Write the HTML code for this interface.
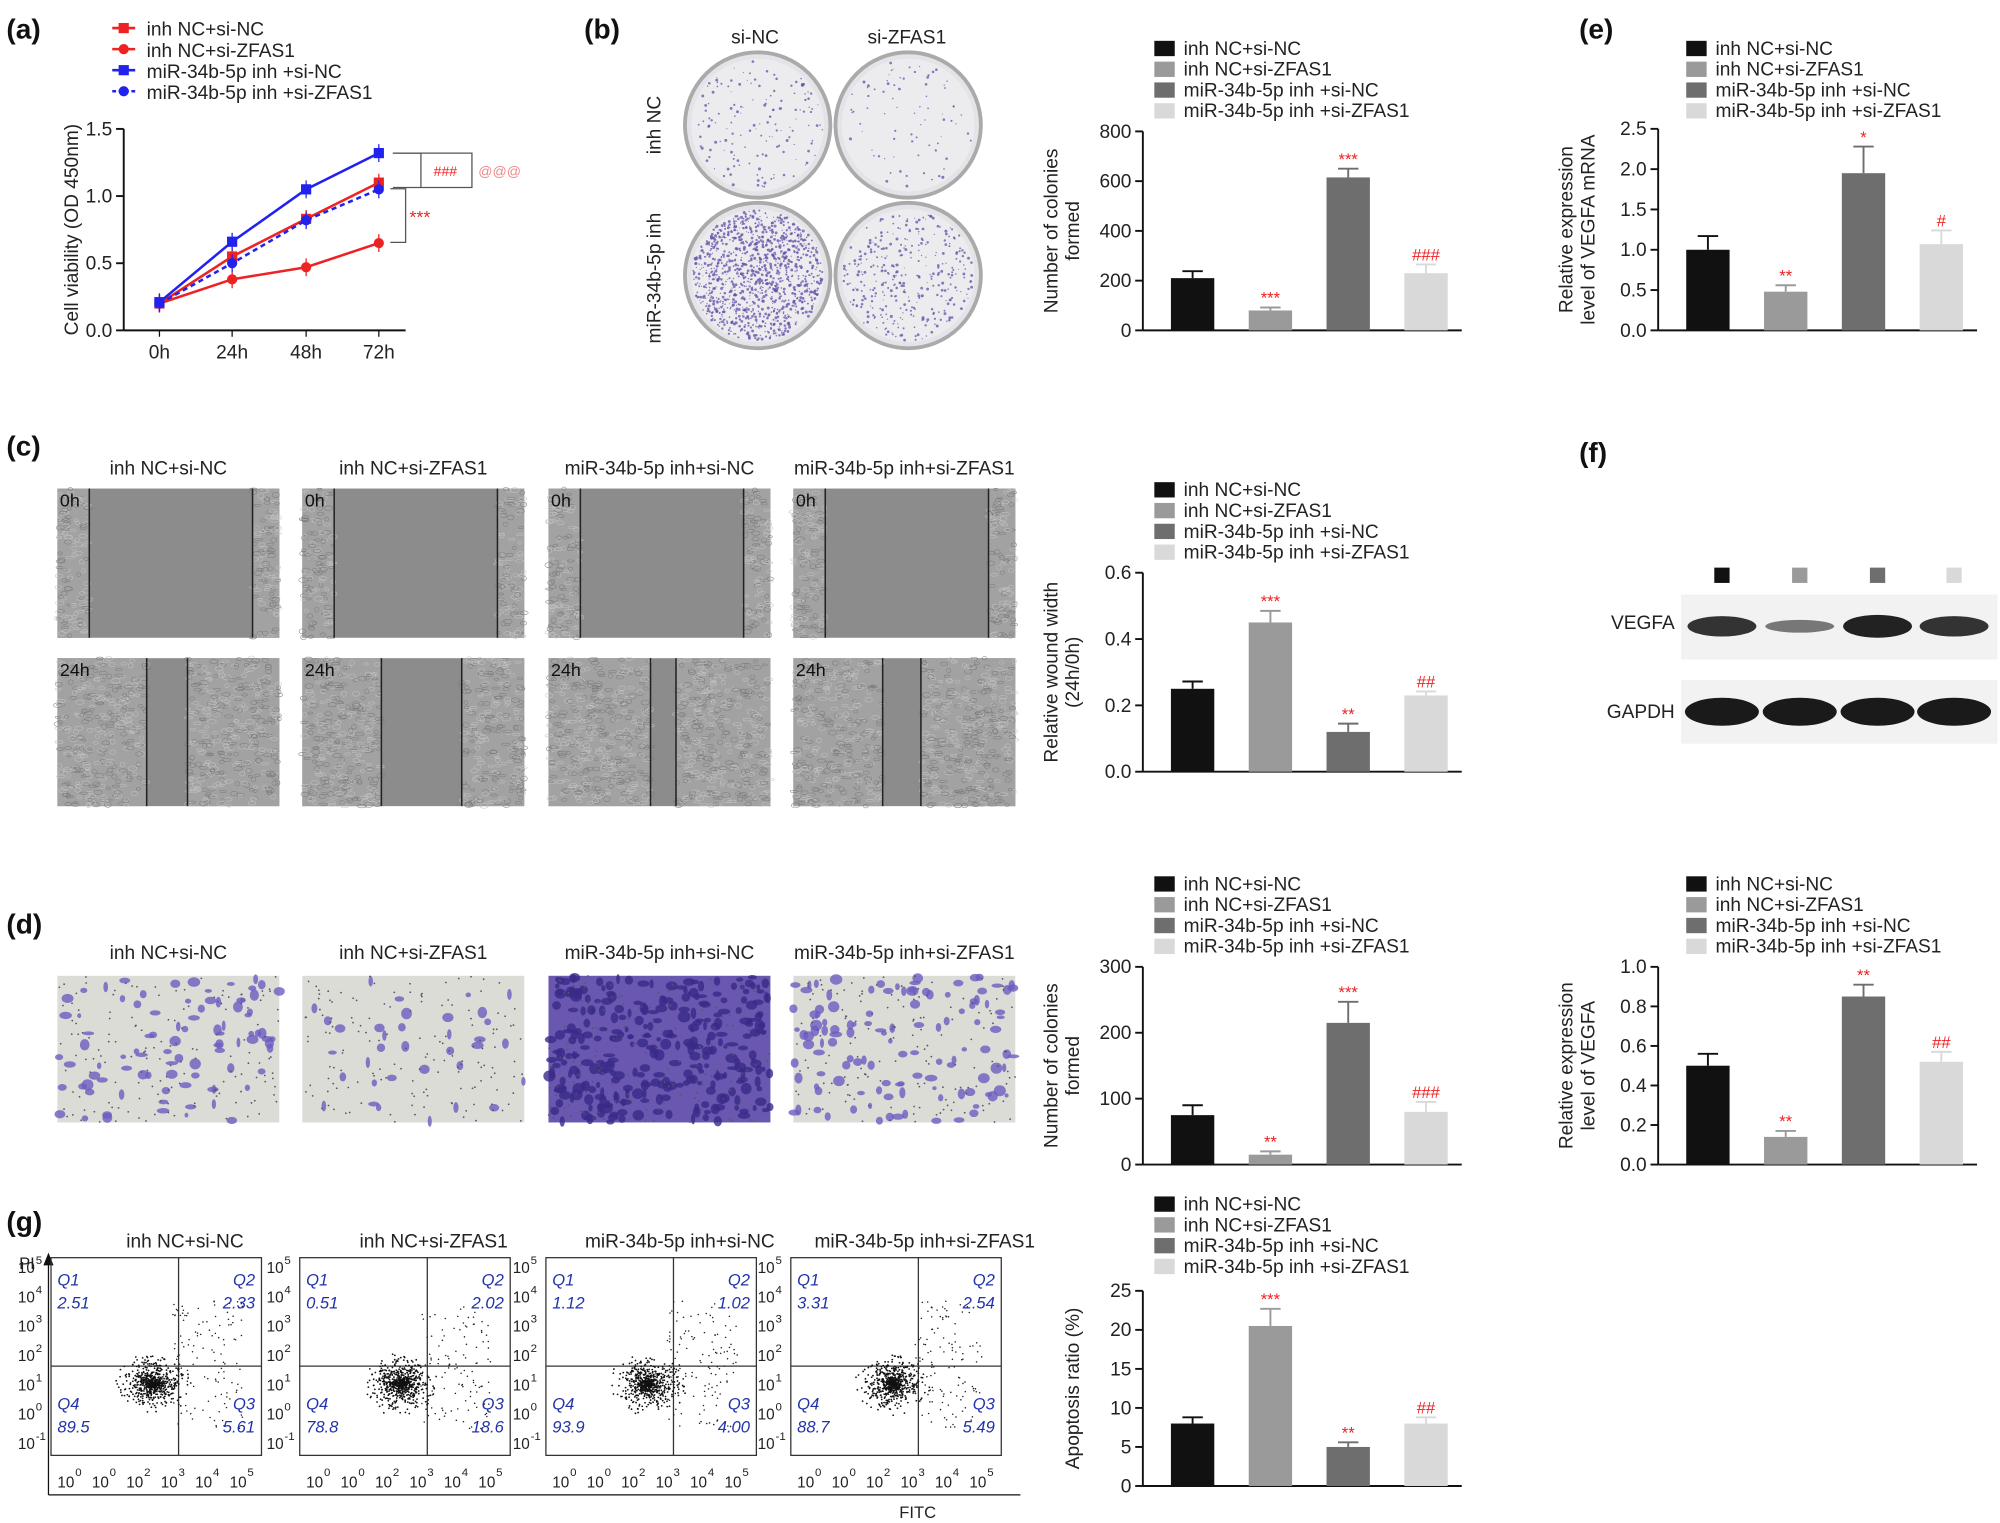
<!DOCTYPE html>
<html><head><meta charset="utf-8"><style>
html,body{margin:0;padding:0;background:#fff}
svg{display:block}
text{font-family:"Liberation Sans",sans-serif}
</style></head><body>
<svg id="s" width="2000" height="1523" viewBox="0 0 1568 1194" xmlns="http://www.w3.org/2000/svg"></svg>
<script>
const S=document.getElementById('s');const NS='http://www.w3.org/2000/svg';
function el(t,a,txt){const e=document.createElementNS(NS,t);for(const k in a)e.setAttribute(k,a[k]);if(txt!==undefined)e.textContent=txt;S.appendChild(e);return e;}
function T(x,y,s,sz,o){o=o||{};return el('text',Object.assign({x:x,y:y,'font-size':sz,fill:'#222'},o),s);}
let seed=7;function R(){seed=(seed*16807)%2147483647;return seed/2147483647;}
const COL=['#111','#9a9a9a','#6e6e6e','#d9d9d9'];
const LEG=['inh NC+si-NC','inh NC+si-ZFAS1','miR-34b-5p inh +si-NC','miR-34b-5p inh +si-ZFAS1'];
[['(a)',5,30],['(b)',458,30],['(e)',1238,30],['(c)',5,357],['(f)',1238,362],['(d)',5,732],['(g)',5,965]].forEach(p=>T(p[1],p[2],p[0],22,{'font-weight':'bold',fill:'#111'}));
function legend(x,y){LEG.forEach((l,i)=>{el('rect',{x:x,y:y+i*16.3-10,width:16,height:12,fill:COL[i]});T(x+23,y+i*16.3+1,l,15);});}
function bars(ax,y0,y1,max,ticks,vals,errs,stars,ylab,fmt){
 const h=y1-y0;el('line',{x1:ax,y1:y0,x2:ax,y2:y1,stroke:'#111','stroke-width':1.5});
 el('line',{x1:ax,y1:y1,x2:ax+250,y2:y1,stroke:'#111','stroke-width':1.5});
 ticks.forEach(t=>{const y=y1-t/max*h;el('line',{x1:ax-6,y1:y,x2:ax,y2:y,stroke:'#111','stroke-width':1.5});T(ax-9,y+5,fmt(t),15,{'text-anchor':'end'});});
 vals.forEach((v,i)=>{const cx=ax+39+i*61;const yt=y1-v/max*h;const ye=y1-(v+errs[i])/max*h;
  el('rect',{x:cx-17,y:yt,width:34,height:y1-yt,fill:COL[i]});
  el('line',{x1:cx,y1:yt,x2:cx,y2:ye,stroke:COL[i],'stroke-width':1.5});el('line',{x1:cx-8,y1:ye,x2:cx+8,y2:ye,stroke:COL[i],'stroke-width':1.5});
  if(stars[i])T(cx,ye-3,stars[i],13,{'text-anchor':'middle',fill:'#e22'});});
 const lines=ylab.split('|');const cy=(y0+y1)/2;
 lines.forEach((l,j)=>T(0,0,l,15,{'text-anchor':'middle',transform:`translate(${ax-50+j*17-(lines.length-1)*17},${cy}) rotate(-90)`}));
}
const f0=t=>String(t),f1=t=>t.toFixed(1);
(function(){const ax=97,y1=259,k=105.3;el('line',{x1:ax,y1:101,x2:ax,y2:y1,stroke:'#111','stroke-width':1.5});el('line',{x1:ax,y1:y1,x2:318,y2:y1,stroke:'#111','stroke-width':1.5});
[0,0.5,1,1.5].forEach(t=>{const y=y1-t*k;el('line',{x1:ax-6,y1:y,x2:ax,y2:y,stroke:'#111','stroke-width':1.5});T(ax-9,y+5,t.toFixed(1),15,{'text-anchor':'end'});});
const xs=[125,182,240,297];['0h','24h','48h','72h'].forEach((l,i)=>{el('line',{x1:xs[i],y1:y1,x2:xs[i],y2:y1+5,stroke:'#111'});T(xs[i],y1+22,l,15,{'text-anchor':'middle'});});
T(0,0,'Cell viability (OD 450nm)',15,{'text-anchor':'middle',transform:'translate(61,180) rotate(-90)'});
const ser=[['#e22',[0.2,0.55,0.83,1.1],'sq',''],['#e22',[0.2,0.38,0.47,0.65],'c',''],['#22e',[0.21,0.66,1.05,1.32],'sq',''],['#22e',[0.2,0.5,0.82,1.05],'c','4,3']];
ser.forEach(s=>{const pts=s[1].map((v,i)=>xs[i]+','+(y1-v*k)).join(' ');el('polyline',{points:pts,fill:'none',stroke:s[0],'stroke-width':2,'stroke-dasharray':s[3]});
 s[1].forEach((v,i)=>{const y=y1-v*k;el('line',{x1:xs[i],y1:y-7,x2:xs[i],y2:y+7,stroke:s[0]});if(s[2]=='sq')el('rect',{x:xs[i]-4,y:y-4,width:8,height:8,fill:s[0]});else el('circle',{cx:xs[i],cy:y,r:4,fill:s[0]});});});
[['#e22','sq',LEG[0]],['#e22','c',LEG[1]],['#22e','sq','miR-34b-5p inh +si-NC'],['#22e','c','miR-34b-5p inh +si-ZFAS1']].forEach((s,i)=>{const y=27+i*16.5;el('line',{x1:88,y1:y-5,x2:106,y2:y-5,stroke:s[0],'stroke-width':2,'stroke-dasharray':i==3?'3,2':''});if(s[1]=='sq')el('rect',{x:93,y:y-9,width:8,height:8,fill:s[0]});else el('circle',{cx:97,cy:y-5,r:4,fill:s[0]});T(115,y+1,s[2],15);});
el('polyline',{points:'308,120 330,120 330,147 308,147',fill:'none',stroke:'#555'});el('polyline',{points:'308,120 370,120 370,147 330,147',fill:'none',stroke:'#555'});
el('polyline',{points:'306,148 318,148 318,190 306,190',fill:'none',stroke:'#555'});
T(340,138,'###',11,{fill:'#e22'});T(375,138,'@@@',11,{fill:'#e88'});T(321,175,'***',14,{fill:'#e22'});})();
T(592,34,'si-NC',15,{'text-anchor':'middle'});T(711,34,'si-ZFAS1',15,{'text-anchor':'middle'});
T(0,0,'inh NC',15,{'text-anchor':'middle',transform:'translate(518,98) rotate(-90)'});T(0,0,'miR-34b-5p inh',15,{'text-anchor':'middle',transform:'translate(518,218) rotate(-90)'});
[[594,98,150],[712,98,80],[594,216,1200],[712,216,350]].forEach(p=>{el('circle',{cx:p[0],cy:p[1],r:57,fill:'#e4e4e8',stroke:'#aaa','stroke-width':3});el('circle',{cx:p[0],cy:p[1],r:52,fill:'#ececef'});
for(let i=0;i<p[2];i++){const a=R()*6.283,r=Math.sqrt(R())*51;el('circle',{cx:p[0]+r*Math.cos(a),cy:p[1]+r*Math.sin(a),r:0.4+R()*0.8,fill:'#6650a8','fill-opacity':0.75});}});
legend(905,42);bars(896,103,259,800,[0,200,400,600,800],[210,80,615,230],[28,12,35,35],['','***','***','###'],'Number of colonies|formed',f0);
legend(1322,42);bars(1300,101,259,2.5,[0,0.5,1,1.5,2,2.5],[1.0,0.48,1.95,1.07],[0.17,0.08,0.33,0.17],['','**','*','#'],'Relative expression|level of VEGFA mRNA',f1);
const cols=[45,237,430,622];const names=['inh NC+si-NC','inh NC+si-ZFAS1','miR-34b-5p inh+si-NC','miR-34b-5p inh+si-ZFAS1'];
cols.forEach((x,i)=>{T(x+87,372,names[i],15,{'text-anchor':'middle'});T(x+87,752,names[i],15,{'text-anchor':'middle'});});
function wound(x,y,w,h,g1,g2,lab){el('rect',{x:x,y:y,width:w,height:h,fill:'#8c8c8c'});
 [[x,g1],[g2,x+w]].forEach(r=>{el('rect',{x:r[0],y:y,width:r[1]-r[0],height:h,fill:'#a2a2a2'});for(let i=0;i<(r[1]-r[0])*h/25;i++){el('ellipse',{cx:r[0]+R()*(r[1]-r[0]),cy:y+R()*h,rx:1.5+R()*2,ry:0.8+R()*1.2,fill:'none',stroke:R()<0.5?'#7a7a7a':'#c4c4c4','stroke-width':0.4});}});
 el('line',{x1:g1,y1:y,x2:g1,y2:y+h,stroke:'#222','stroke-width':1.2});el('line',{x1:g2,y1:y,x2:g2,y2:y+h,stroke:'#222','stroke-width':1.2});T(x+2,y+14,lab,14,{fill:'#111'});}
cols.forEach((x,i)=>wound(x,383,174,117,x+25,x+153,'0h'));
[[70,102],[62,125],[80,100],[70,100]].forEach((g,i)=>wound(cols[i],516,174,116,cols[i]+g[0],cols[i]+g[1],'24h'));
legend(905,388);bars(896,449,605,0.6,[0,0.2,0.4,0.6],[0.25,0.45,0.12,0.23],[0.022,0.035,0.025,0.012],['','***','**','##'],'Relative wound width|(24h/0h)',f1);
[1350,1411,1472,1532].forEach((x,i)=>el('rect',{x:x-6,y:445,width:12,height:12,fill:COL[i]}));
el('rect',{x:1318,y:466,width:248,height:51,fill:'#f2f2f2'});el('rect',{x:1318,y:533,width:248,height:50,fill:'#f2f2f2'});
T(1313,493,'VEGFA',15,{'text-anchor':'end'});T(1313,563,'GAPDH',15,{'text-anchor':'end'});
[[1350,8,'#333'],[1411,5,'#777'],[1472,9,'#222'],[1532,8,'#333']].forEach(b=>{el('ellipse',{cx:b[0],cy:491,rx:27,ry:b[1],fill:b[2]});el('ellipse',{cx:b[0],cy:558,rx:29,ry:11,fill:'#1a1a1a'});});
cols.forEach((x,i)=>{el('rect',{x:x,y:765,width:174,height:115,fill:i==2?'#6a58b0':'#dcdcd6'});const n=[90,35,300,120][i];
for(let j=0;j<n;j++){el('ellipse',{cx:x+R()*174,cy:765+R()*115,rx:1.5+R()*3.5,ry:1.5+R()*3,fill:i==2?'#3a2a88':'#6b5cc0','fill-opacity':0.8});}
for(let j=0;j<150;j++)el('circle',{cx:x+R()*174,cy:765+R()*115,r:0.7,fill:'#556'});});
legend(905,697);bars(896,758,913,300,[0,100,200,300],[75,15,215,80],[15,5,32,15],['','**','***','###'],'Number of colonies|formed',f0);
legend(1322,697);bars(1300,758,913,1.0,[0,0.2,0.4,0.6,0.8,1.0],[0.5,0.14,0.85,0.52],[0.06,0.03,0.06,0.05],['','**','**','##'],'Relative expression|level of VEGFA',f1);
const q=[['2.51','2.33','89.5','5.61'],['0.51','2.02','78.8','18.6'],['1.12','1.02','93.9','4.00'],['3.31','2.54','88.7','5.49']];
const gx=[40,235,428,620];
el('line',{x1:38,y1:1172,x2:800,y2:1172,stroke:'#111'});el('line',{x1:38,y1:1172,x2:38,y2:990,stroke:'#111'});el('path',{d:'M34,992 L38,982 L42,992 Z',fill:'#111'});
T(15,995,'PI',13);T(705,1190,'FITC',13);
gx.forEach((x,i)=>{T(x+105,978,names[i],15,{'text-anchor':'middle'});el('rect',{x:x,y:986,width:165,height:155,fill:'none',stroke:'#333'});
 const cx=x+100,cy=1071;el('line',{x1:cx,y1:986,x2:cx,y2:1141,stroke:'#333'});el('line',{x1:x,y1:cy,x2:x+165,y2:cy,stroke:'#333'});
 for(let j=0;j<700;j++){const r=Math.abs(R()+R()-1)*26,a=R()*6.283;el('circle',{cx:x+80+r*Math.cos(a)*1.2,cy:1085+r*Math.sin(a),r:0.7,fill:'#111'});}
 for(let j=0;j<120;j++)el('circle',{cx:x+95+R()*55,cy:1020+R()*100,r:0.6,fill:'#222'});
 const o={fill:'#2233aa','font-style':'italic'};T(x+5,1008,'Q1',13,o);T(x+5,1026,q[i][0],13,o);T(x+160,1008,'Q2',13,Object.assign({'text-anchor':'end'},o));T(x+160,1026,q[i][1],13,Object.assign({'text-anchor':'end'},o));
 T(x+5,1105,'Q4',13,o);T(x+5,1123,q[i][2],13,o);T(x+160,1105,'Q3',13,Object.assign({'text-anchor':'end'},o));T(x+160,1123,q[i][3],13,Object.assign({'text-anchor':'end'},o));
 ['5','4','3','2','1','0','-1'].forEach((t,k)=>{const y=992+k*23;T(x-26,y+6,'10',12);T(x-12,y-1,t,9);});
 ['0','0','2','3','4','5'].forEach((t,k)=>{const xx=x+5+k*27;T(xx,1166,'10',12);T(xx+14,1157,t,9);});});
legend(905,948);bars(896,1012,1165,25,[0,5,10,15,20,25],[8,20.5,5,8],[0.8,2.2,0.6,0.8],['','***','**','##'],'Apoptosis ratio (%)',f0);
</script>
</body></html>
